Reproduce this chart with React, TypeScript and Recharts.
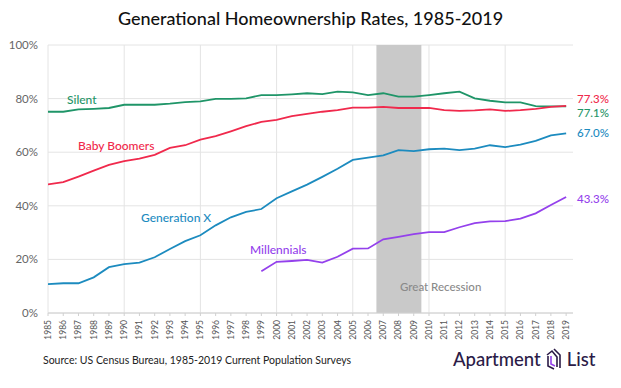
import React from "react";
import {
  LineChart,
  Line,
  XAxis,
  YAxis,
  CartesianGrid,
  ReferenceArea,
  ReferenceLine,
} from "recharts";

const years = [
  1985, 1986, 1987, 1988, 1989, 1990, 1991, 1992, 1993, 1994, 1995, 1996,
  1997, 1998, 1999, 2000, 2001, 2002, 2003, 2004, 2005, 2006, 2007, 2008,
  2009, 2010, 2011, 2012, 2013, 2014, 2015, 2016, 2017, 2018, 2019,
];

const silent = [
  75.1, 75.1, 76.0, 76.2, 76.5, 77.7, 77.7, 77.7, 78.1, 78.7, 79.0, 79.9,
  79.9, 80.1, 81.3, 81.3, 81.6, 82.0, 81.7, 82.6, 82.3, 81.3, 82.0, 80.7,
  80.7, 81.3, 82.0, 82.6, 80.1, 79.2, 78.6, 78.6, 77.2, 77.1, 77.1,
];

const boomers = [
  48.0, 48.8, 50.9, 53.1, 55.3, 56.7, 57.6, 59.0, 61.6, 62.6, 64.7, 66.0,
  67.8, 69.7, 71.3, 72.1, 73.5, 74.3, 75.1, 75.7, 76.6, 76.6, 76.9, 76.5,
  76.5, 76.5, 75.7, 75.4, 75.6, 76.0, 75.4, 75.7, 76.2, 76.9, 77.3,
];

const genX = [
  10.8, 11.1, 11.1, 13.3, 17.1, 18.2, 18.8, 20.8, 23.9, 26.8, 29.0, 32.7,
  35.7, 37.7, 38.8, 42.8, 45.4, 47.9, 50.8, 53.8, 57.1, 58.0, 58.8, 60.8,
  60.4, 61.1, 61.3, 60.8, 61.3, 62.6, 61.9, 62.8, 64.2, 66.3, 67.0,
];

const millennials: (number | null)[] = [
  null, null, null, null, null, null, null, null, null, null, null, null,
  null, null, 15.6, 19.1, 19.4, 19.8, 18.8, 21.0, 24.0, 24.1, 27.5, 28.4,
  29.4, 30.2, 30.2, 32.0, 33.5, 34.2, 34.3, 35.2, 37.2, 40.3, 43.3,
];

const yTicks = [0, 20, 40, 60, 80, 100];
const gridYears = [1985, 1990, 1995, 2000, 2005, 2010, 2015];
const recession = [2006.55, 2009.5];

const COLORS = {
  silent: "#1f9568",
  boomers: "#f0294c",
  genX: "#1c8bbf",
  millennials: "#9441ec",
};

const data = years.map((y, i) => ({
  year: y,
  silent: silent[i],
  boomers: boomers[i],
  genX: genX[i],
  millennials: millennials[i],
}));

const FONT = "Lato, 'Noto Sans', sans-serif";

const XTick = (props: any) => {
  const { x, y, payload } = props;
  return (
    <g transform={`translate(${x},${y + 2})`}>
      <text
        transform="rotate(-90)"
        textAnchor="end"
        dy="0.35em"
        fontSize={8.5}
        fill="#555"
        fontFamily={FONT}
      >
        {payload.value}
      </text>
    </g>
  );
};

const txt = (
  s: string,
  left: number,
  top: number,
  color: string,
  size = 12,
  weight = 500
) => (
  <div
    style={{
      position: "absolute",
      left,
      top,
      color,
      fontSize: size,
      fontWeight: weight,
      fontFamily: FONT,
      whiteSpace: "nowrap",
      lineHeight: 1,
    }}
  >
    {s}
  </div>
);

export default function App() {
  return (
    <div
      style={{
        position: "absolute",
        left: 0,
        top: 0,
        width: 621,
        height: 388,
        background: "#fff",
        fontFamily: FONT,
      }}
    >
      <div
        style={{
          position: "absolute",
          left: 0,
          width: 621,
          top: 7,
          textAlign: "center",
          fontSize: 18,
          color: "#111",
          fontFamily: FONT,
          fontWeight: 500,
        }}
      >
        Generational Homeownership Rates, 1985-2019
      </div>
      <div style={{ position: "absolute", left: 0, top: 0 }}>
        <LineChart
          width={621}
          height={388}
          data={data}
          margin={{ top: 45, right: 48, bottom: 40, left: 0 }}
        >
          <CartesianGrid vertical={false} stroke="#e4e4e4" />
          <ReferenceArea
            x1={recession[0]}
            x2={recession[1]}
            y1={0}
            y2={100}
            fill="#c9c9c9"
            fillOpacity={1}
            stroke="none"
          />
          {gridYears.map((g) => (
            <ReferenceLine key={g} x={g} stroke="#e4e4e4" />
          ))}
          <XAxis
            dataKey="year"
            type="number"
            domain={[1985, 2019.45]}
            ticks={years}
            interval={0}
            allowDataOverflow
            height={35}
            tick={<XTick />}
            tickSize={3}
            tickLine={{ stroke: "#d0d0d0" }}
            axisLine={{ stroke: "#d0d0d0" }}
          />
          <YAxis
            type="number"
            domain={[0, 100]}
            ticks={yTicks}
            width={48}
            axisLine={false}
            tickLine={false}
            tickSize={0}
            tickMargin={10}
            tickFormatter={(v: number) => `${v}%`}
            tick={{ fontSize: 11.5, fill: "#666", fontFamily: FONT }}
          />
          <Line
            dataKey="silent"
            stroke={COLORS.silent}
            strokeWidth={1.8}
            dot={false}
            isAnimationActive={false}
          />
          <Line
            dataKey="boomers"
            stroke={COLORS.boomers}
            strokeWidth={1.8}
            dot={false}
            isAnimationActive={false}
          />
          <Line
            dataKey="genX"
            stroke={COLORS.genX}
            strokeWidth={1.8}
            dot={false}
            isAnimationActive={false}
          />
          <Line
            dataKey="millennials"
            stroke={COLORS.millennials}
            strokeWidth={1.8}
            dot={false}
            connectNulls={false}
            isAnimationActive={false}
          />
        </LineChart>
      </div>

      {txt("Silent", 67, 94, COLORS.silent)}
      {txt("Baby Boomers", 78, 140, COLORS.boomers)}
      {txt("Generation X", 141, 212, COLORS.genX)}
      {txt("Millennials", 250, 244, COLORS.millennials)}
      {txt("Great Recession", 400, 281, "#8a8a8a", 11.5)}

      {txt("77.3%", 577, 93, COLORS.boomers, 11.5)}
      {txt("77.1%", 577, 107, COLORS.silent, 11.5)}
      {txt("67.0%", 577, 127, COLORS.genX, 11.5)}
      {txt("43.3%", 577, 193, COLORS.millennials, 11.5)}

      {txt(
        "Source: US Census Bureau, 1985-2019 Current Population Surveys",
        43,
        355,
        "#222",
        10.5,
        400
      )}

      <div
        style={{
          position: "absolute",
          left: 453,
          top: 347,
          display: "flex",
          alignItems: "center",
          color: "#2b1b47",
          fontSize: 18.5,
          fontFamily: FONT,
          fontWeight: 500,
          lineHeight: 1,
        }}
      >
        <span>Apartment</span>
        <svg width={20} height={24} style={{ margin: "0 3px" }}>
          <path d="M4 9 L4 19 L10 22" stroke="#2b1b47" strokeWidth={1.6} fill="none" />
          <path d="M7 9 L7 17 L11 19" stroke="#9441ec" strokeWidth={1.6} fill="none" />
          <path d="M3 8 L8 4 L13 10 L13 20" stroke="#2b1b47" strokeWidth={1.6} fill="none" />
          <path d="M10 2 L16 8 L16 21" stroke="#2b1b47" strokeWidth={1.6} fill="none" />
        </svg>
        <span>List</span>
      </div>
    </div>
  );
}
